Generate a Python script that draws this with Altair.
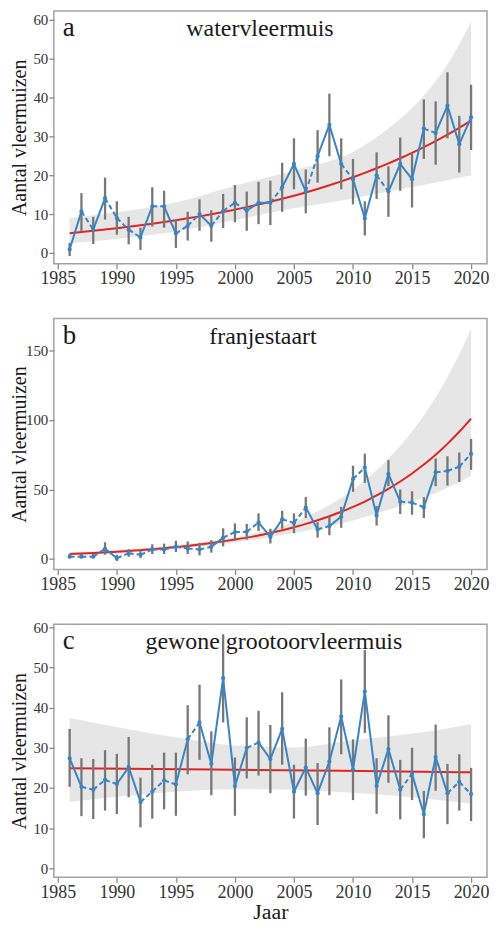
import altair as alt
import pandas as pd

years = list(range(1986, 2021))
x_ticks = [1985, 1990, 1995, 2000, 2005, 2010, 2015, 2020]

# ---------- panel a: watervleermuis ----------
a_val = [0.9, 10.7, 6.0, 14.1, 9.0, 6.0, 4.0, 12.0, 12.0, 5.0, 7.0, 10.0, 7.0, 10.8, 12.9,
         10.9, 12.9, 12.9, 16.9, 22.9, 15.8, 24.9, 33.0, 22.9, 19.0, 8.9, 20.0, 15.8, 22.9,
         19.0, 32.0, 30.9, 37.9, 28.0, 34.9]
a_lo = [-0.8, 5.5, 2.3, 8.6, 4.7, 2.2, 0.8, 6.8, 6.5, 1.3, 3.2, 5.7, 2.9, 6.4, 7.9, 5.7, 7.4,
        7.2, 10.6, 16.4, 10.2, 18.1, 24.9, 16.4, 12.5, 4.5, 13.9, 9.3, 16.0, 11.7, 24.2, 22.7,
        29.5, 20.7, 26.5]
a_hi = [2.6, 15.4, 9.3, 19.4, 13.3, 9.3, 6.5, 16.9, 16.0, 8.5, 10.6, 13.8, 11.0, 15.2, 17.5,
        15.8, 18.3, 18.6, 23.2, 29.5, 21.5, 31.6, 41.0, 29.5, 24.2, 13.3, 25.9, 22.3, 29.7,
        25.7, 39.5, 39.0, 46.5, 35.3, 43.3]
a_dash = ["S", "D", "S", "D", "D", "D", "S", "D", "S", "D", "D", "S", "D", "D", "D", "S", "S",
          "D", "S", "S", "D", "S", "S", "D", "S", "S", "D", "S", "S", "S", "D", "S", "S", "S"]
a_trend = [5.1, 5.39, 5.70, 6.03, 6.37, 6.74, 7.13, 7.54, 7.97, 8.43, 8.91, 9.42, 9.97, 10.54,
           11.15, 11.79, 12.46, 13.18, 13.94, 14.74, 15.58, 16.48, 17.43, 18.43, 19.49, 20.61,
           21.79, 23.04, 24.37, 25.77, 27.25, 28.81, 30.47, 32.22, 34.07]

band_years = [1986, 1990, 1995, 2000, 2005, 2010, 2013, 2016, 2018, 2020]
a_band_lo = [2.5, 3.6, 5.5, 8.5, 11.5, 14.0, 15.8, 17.5, 18.7, 20.0]
a_band_hi = [9.0, 10.5, 13.0, 17.3, 21.3, 26.0, 32.0, 40.5, 48.5, 59.5]

# ---------- panel b: franjestaart ----------
b_val = [1.6, 1.6, 1.6, 7.3, 0.5, 4.0, 2.9, 6.8, 6.8, 8.7, 7.5, 6.8, 8.7, 15.3, 19.3, 19.5,
         26.2, 15.8, 28.5, 25.9, 37.0, 21.2, 23.6, 30.4, 57.5, 65.7, 31.3, 61.2, 41.2, 40.5,
         37.2, 62.4, 63.3, 66.4, 75.6]
b_lo = [0.5, 0.5, 0.5, 3.0, -1.5, 1.5, 0.5, 3.5, 3.5, 5.0, 3.5, 2.5, 4.5, 9.0, 13.0, 13.9,
        20.0, 11.1, 21.7, 18.6, 29.4, 15.3, 17.0, 22.4, 48.3, 54.7, 24.0, 52.3, 32.3, 31.8,
        29.4, 52.3, 52.8, 55.4, 64.1]
b_hi = [3.5, 3.5, 3.5, 12.0, 3.0, 7.0, 6.0, 10.5, 11.0, 13.0, 12.5, 11.5, 13.5, 22.0, 25.5,
        25.2, 32.8, 21.7, 34.6, 32.8, 44.5, 26.4, 30.4, 37.4, 67.1, 75.8, 38.1, 71.1, 49.9,
        48.7, 44.5, 72.3, 73.9, 76.6, 86.4]
b_dash = ["D", "D", "D", "S", "D", "D", "D", "D", "D", "D", "D", "D", "S", "D", "D", "D", "S",
          "S", "D", "D", "S", "D", "S", "S", "D", "S", "S", "S", "D", "D", "S", "D", "D", "D"]
b_trend = [3.5, 3.8, 4.2, 4.7, 5.1, 5.7, 6.3, 6.9, 7.7, 8.5, 9.3, 10.3, 11.4, 12.6, 13.9, 15.3,
           16.9, 18.7, 20.6, 22.8, 25.2, 27.8, 30.7, 33.9, 37.4, 41.3, 45.7, 50.4, 55.7, 61.5,
           67.9, 75.0, 82.8, 91.5, 101.0]
b_band_lo = [2.5, 4.0, 7.2, 11.8, 18.7, 27.7, 35.3, 44.1, 51.3, 59.6]
b_band_hi = [4.7, 6.4, 9.9, 15.6, 26.7, 49.7, 72.1, 103.2, 130.8, 165.6]

# ---------- panel c: gewone grootoorvleermuis ----------
c_val = [27.4, 20.3, 19.6, 22.0, 21.0, 25.2, 16.5, 19.1, 21.9, 20.9, 32.1, 36.3, 26.0, 47.3,
         20.5, 30.0, 31.3, 27.2, 34.7, 19.1, 25.1, 18.7, 26.6, 37.8, 24.6, 44.0, 20.5, 29.7,
         19.6, 23.5, 13.5, 27.7, 18.7, 21.5, 18.5]
c_lo = [20.3, 13.0, 12.3, 14.4, 13.5, 17.7, 10.2, 12.4, 14.7, 13.1, 23.4, 27.0, 18.2, 36.3,
        13.1, 22.4, 23.1, 18.7, 25.8, 12.4, 18.1, 10.8, 18.2, 28.4, 17.0, 33.7, 13.6, 21.3,
        12.2, 17.0, 7.5, 19.3, 11.0, 14.4, 11.8]
c_hi = [34.7, 27.4, 27.2, 29.4, 28.5, 32.7, 22.6, 25.8, 28.8, 28.8, 40.6, 45.7, 34.1, 58.2,
        27.6, 37.6, 39.2, 35.7, 43.8, 25.8, 32.3, 26.2, 35.1, 47.0, 32.1, 54.3, 27.4, 38.1,
        27.0, 30.0, 19.3, 35.8, 26.0, 28.4, 25.0]
c_dash = ["S", "D", "D", "D", "S", "S", "D", "D", "D", "S", "D", "S", "S", "S", "S", "D", "S",
          "S", "S", "S", "S", "S", "S", "S", "S", "S", "S", "S", "D", "S", "S", "S", "D", "D"]
c_trend_years = [1986, 1998, 2009, 2020]
c_trend = [24.9, 24.6, 24.3, 23.9]
c_band_lo = [16.5, 17.8, 19.1, 19.7, 19.6, 18.8, 18.2, 17.4, 16.8, 16.1]
c_band_hi = [37.4, 35.2, 32.6, 30.6, 30.1, 31.9, 32.8, 33.9, 34.8, 35.9]

FONT = "Liberation Serif, Times New Roman, Times, DejaVu Serif, serif"
BLUE = "#3a84c4"
RED = "#e02424"
GREY_BAR = "#777777"
BAND = "#e6e6e6"
W = 435


def panel(letter, name, title_x, vals, lo, hi, dash, trend_x, trend, blo, bhi,
          ydomain, yticks, height, xtitle):
    df = pd.DataFrame({"year": years, "v": vals, "lo": lo, "hi": hi})
    rows = []
    for i in range(len(years) - 1):
        for j in (i, i + 1):
            rows.append({"year": years[j], "v": vals[j], "seg": i, "dash": dash[i]})
    seg = pd.DataFrame(rows)
    tr = pd.DataFrame({"year": trend_x, "t": trend})
    bd = pd.DataFrame({"year": band_years, "blo": blo, "bhi": bhi})

    xs = alt.Scale(domain=[1984.66, 2021.35], nice=False, zero=False)
    ys = alt.Scale(domain=ydomain, nice=False, zero=False)
    xax = alt.Axis(values=x_ticks, format="d", title=xtitle if xtitle else None)
    yax = alt.Axis(values=yticks, title="Aantal vleermuizen")
    X = lambda: alt.X("year:Q", scale=xs, axis=xax)

    band = alt.Chart(bd).mark_area(color=BAND, interpolate="monotone").encode(
        x=X(), y=alt.Y("blo:Q", scale=ys, axis=yax), y2="bhi:Q")
    trend_l = alt.Chart(tr).mark_line(color=RED, strokeWidth=2, interpolate="monotone").encode(
        x=X(), y=alt.Y("t:Q", scale=ys, axis=yax))
    bars = alt.Chart(df).mark_rule(color=GREY_BAR, strokeWidth=2.3).encode(
        x=X(), y=alt.Y("lo:Q", scale=ys, axis=yax), y2="hi:Q")
    segs = alt.Chart(seg).mark_line(color=BLUE, strokeWidth=2).encode(
        x=X(), y=alt.Y("v:Q", scale=ys, axis=yax), detail="seg:N",
        strokeDash=alt.StrokeDash("dash:N", scale=alt.Scale(domain=["S", "D"], range=[[1, 0], [5, 3]]),
                                  legend=None))
    pts = alt.Chart(df).mark_circle(color=BLUE, size=18, opacity=1).encode(
        x=X(), y=alt.Y("v:Q", scale=ys, axis=yax))
    lt = alt.Chart(pd.DataFrame({"s": [letter]})).mark_text(
        font=FONT, fontSize=27, align="left", baseline="alphabetic", color="#1a1a1a").encode(
        x=alt.value(9), y=alt.value(25), text="s:N")
    tt = alt.Chart(pd.DataFrame({"s": [name]})).mark_text(
        font=FONT, fontSize=24, align="center", baseline="alphabetic", color="#1a1a1a").encode(
        x=alt.value(title_x), y=alt.value(25), text="s:N")
    return alt.layer(band, lt, tt, trend_l, bars, segs, pts).properties(width=W, height=height)


pa = panel("a", "watervleermuis", 207, a_val, a_lo, a_hi, a_dash, years, a_trend,
           a_band_lo, a_band_hi, [-2.8, 62.3], [0, 10, 20, 30, 40, 50, 60], 254, "")
pb = panel("b", "franjestaart", 210, b_val, b_lo, b_hi, b_dash, years, b_trend,
           b_band_lo, b_band_hi, [-7.7, 173], [0, 50, 100, 150], 252, "")
pc = panel("c", "gewone grootoorvleermuis", 221, c_val, c_lo, c_hi, c_dash, c_trend_years, c_trend,
           c_band_lo, c_band_hi, [-2.2, 60.7], [0, 10, 20, 30, 40, 50, 60], 254, "Jaar")

chart = alt.vconcat(pa, pb, pc, spacing=55, bounds="flush").properties(
    padding={"left": 1, "top": 0, "right": 0, "bottom": 0}
).configure_view(stroke="#a3a3a3", strokeWidth=1.5).configure_axis(
    grid=False, domain=False, labelFont=FONT, titleFont=FONT, labelColor="#333333",
    titleColor="#1a1a1a", tickColor="#8a8a8a", tickSize=5, tickWidth=1.3,
    titleFontWeight="normal"
).configure_axisX(labelFontSize=18, labelPadding=1, titleFontSize=22, titlePadding=0
).configure_axisY(labelFontSize=15, labelPadding=1, titleFontSize=20, titleX=-28,
                  titleBaseline="alphabetic")

chart.save("out.html", embed_options={"renderer": "svg", "actions": False})
